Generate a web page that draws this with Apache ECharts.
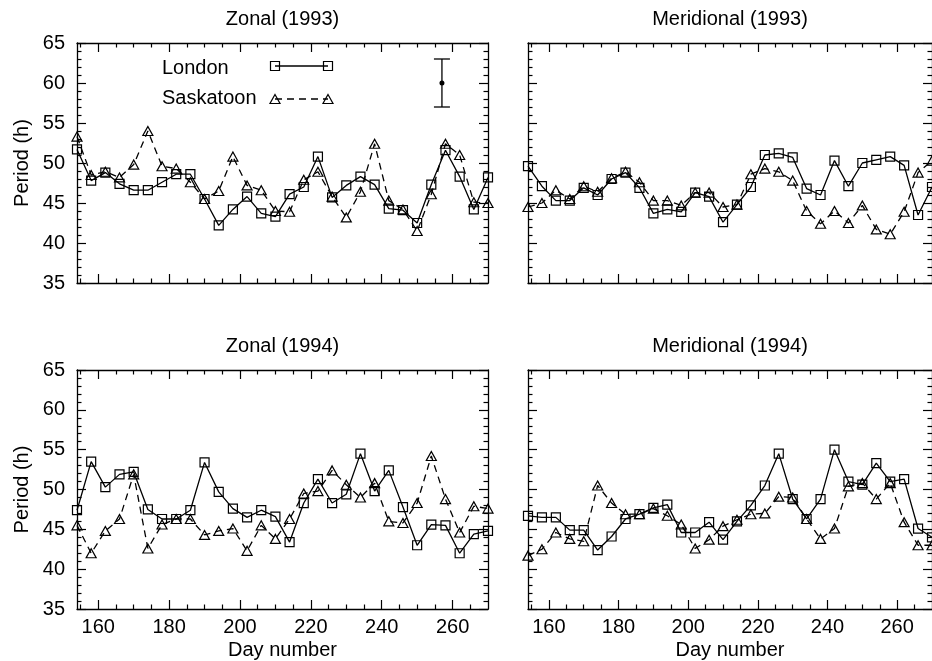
<!DOCTYPE html>
<html>
<head>
<meta charset="utf-8">
<script src="https://cdn.jsdelivr.net/npm/echarts@6/dist/echarts.min.js"></script>
<style>
  html, body { margin: 0; padding: 0; background: #fff; }
  #chart { width: 932px; height: 661px; }
</style>
</head>
<body>
<div id="chart"></div>
<script>
// Sampling days (every 4 days)
const days = [154,158,162,166,170,174,178,182,186,190,194,198,202,206,210,214,218,222,226,230,234,238,242,246,250,254,258,262,266,270];

// Period (h) per station and wind component
const zonal1993London    = [51.7,47.8,48.8,47.4,46.6,46.6,47.6,48.6,48.6,45.5,42.2,44.2,45.8,43.7,43.3,46.1,47.0,50.8,45.7,47.2,48.3,47.3,44.3,44.1,42.5,47.3,51.6,48.3,44.2,48.2];
const zonal1993Saskatoon = [53.3,48.5,48.9,48.2,49.8,54.0,49.6,49.3,47.6,45.5,46.5,50.8,47.2,46.6,44.0,43.9,47.9,48.9,45.8,43.2,46.4,52.4,45.3,44.2,41.5,46.1,52.4,51.0,45.1,45.0];
const merid1993London    = [49.6,47.1,45.3,45.3,46.9,46.0,48.0,48.8,46.9,43.7,44.2,43.9,46.3,45.8,42.6,44.8,47.0,51.0,51.2,50.7,46.8,46.0,50.3,47.1,50.0,50.4,50.8,49.7,43.5,47.0];
const merid1993Saskatoon = [44.5,45.0,46.6,45.5,47.1,46.4,48.1,48.9,47.6,45.3,45.3,44.7,46.3,46.3,44.5,44.8,48.6,49.3,48.9,47.8,44.0,42.4,44.0,42.5,44.7,41.7,41.1,43.9,48.8,50.3];
const zonal1994London    = [47.4,53.5,50.3,51.9,52.2,47.5,46.3,46.3,47.4,53.4,49.7,47.6,46.5,47.4,46.6,43.4,48.3,51.3,48.3,49.4,54.5,49.8,52.4,47.8,43.0,45.6,45.5,42.0,44.4,44.8];
const zonal1994Saskatoon = [45.5,42.0,44.8,46.3,51.9,42.6,45.6,46.3,46.3,44.3,44.8,45.1,42.3,45.5,43.8,46.3,49.5,49.8,52.4,50.6,49.0,50.8,46.0,45.8,48.3,54.2,48.8,44.6,47.9,47.6];
const merid1994London    = [46.7,46.5,46.5,44.9,44.9,42.4,44.1,46.3,46.9,47.7,48.1,44.6,44.6,45.9,43.7,46.0,48.0,50.5,54.5,48.8,46.3,48.8,55.0,51.0,50.6,53.3,51.0,51.3,45.1,44.0];
const merid1994Saskatoon = [41.7,42.5,44.6,43.8,43.5,50.5,48.3,46.9,46.9,47.6,46.7,45.6,42.6,43.7,45.4,46.2,46.9,47.0,49.1,49.0,46.3,43.8,45.1,50.4,50.8,48.8,50.8,45.9,43.0,43.0];

// Axis ticks
const xMajorTicks = [160,180,200,220,240,260];
const xMinorTicks = [155,165,170,175,185,190,195,205,210,215,225,230,235,245,250,255,265];
const dayRange = [154, 270];
const periodRange = [35, 65];

// Typical uncertainty bar: [day, period, half-width]
const errorBar = [[257, 60, 3]];

const panelTitles = ['Zonal (1993)', 'Meridional (1993)', 'Zonal (1994)', 'Meridional (1994)'];
const londonSets = [zonal1993London, merid1993London, zonal1994London, merid1994London];
const saskSets = [zonal1993Saskatoon, merid1993Saskatoon, zonal1994Saskatoon, merid1994Saskatoon];

const FONT = 'Liberation Sans, Arial, Helvetica, sans-serif';
const FS = 20;
const BLACK = '#000';

const layout = [
  { left: 77,  top: 43,  yLabels: true,  xLabels: false },
  { left: 528, top: 43,  yLabels: false, xLabels: false },
  { left: 77,  top: 370, yLabels: true,  xLabels: true  },
  { left: 528, top: 370, yLabels: false, xLabels: true  }
];
const W = 411, H = 240;
const MAJ = 9, MIN = 4.5;

const grid = [], xAxis = [], yAxis = [], series = [];

function pairs(vals) { return days.map((d, i) => [d, vals[i]]); }

layout.forEach((p, i) => {
  grid.push({ left: p.left, top: p.top, width: W, height: H, containLabel: false });
  const axisLineStyle = { show: true, onZero: false, lineStyle: { color: BLACK, width: 1.3 } };
  const baseX = { type: 'value', gridIndex: i, min: dayRange[0], max: dayRange[1], splitLine: { show: false } };
  // bottom: major ticks (+ labels on the lower row)
  xAxis.push(Object.assign({}, baseX, {
    position: 'bottom',
    axisLine: axisLineStyle,
    axisTick: { show: true, inside: true, length: MAJ, customValues: xMajorTicks, lineStyle: { color: BLACK, width: 1.2 } },
    axisLabel: { show: p.xLabels, customValues: xMajorTicks, color: BLACK, fontFamily: FONT, fontSize: FS, margin: 8 },
    name: p.xLabels ? 'Day number' : '',
    nameLocation: 'middle', nameGap: 31,
    nameTextStyle: { color: BLACK, fontFamily: FONT, fontSize: FS }
  }));
  // bottom: minor ticks
  xAxis.push(Object.assign({}, baseX, {
    position: 'bottom',
    axisLine: { show: false, onZero: false },
    axisTick: { show: true, inside: true, length: MIN, customValues: xMinorTicks, lineStyle: { color: BLACK, width: 1.2 } },
    axisLabel: { show: false }
  }));
  // top: frame line, major ticks and panel title
  xAxis.push(Object.assign({}, baseX, {
    position: 'top',
    axisLine: axisLineStyle,
    axisTick: { show: true, inside: true, length: MAJ, customValues: xMajorTicks, lineStyle: { color: BLACK, width: 1.2 } },
    axisLabel: { show: false },
    name: panelTitles[i],
    nameLocation: 'middle', nameGap: 14,
    nameTextStyle: { color: BLACK, fontFamily: FONT, fontSize: FS }
  }));
  // top: minor ticks
  xAxis.push(Object.assign({}, baseX, {
    position: 'top',
    axisLine: { show: false, onZero: false },
    axisTick: { show: true, inside: true, length: MIN, customValues: xMinorTicks, lineStyle: { color: BLACK, width: 1.2 } },
    axisLabel: { show: false }
  }));

  const baseY = {
    type: 'value', gridIndex: i, min: periodRange[0], max: periodRange[1], interval: 5,
    splitLine: { show: false },
    axisLine: axisLineStyle,
    axisTick: { show: true, inside: true, length: MAJ, lineStyle: { color: BLACK, width: 1.2 } },
    minorTick: { show: true, splitNumber: 5, length: MIN, lineStyle: { color: BLACK, width: 1.2 } },
    minorSplitLine: { show: false }
  };
  yAxis.push(Object.assign({}, baseY, {
    position: 'left',
    axisLabel: { show: p.yLabels, color: BLACK, fontFamily: FONT, fontSize: FS, margin: 12 },
    name: p.yLabels ? 'Period (h)' : '',
    nameLocation: 'middle', nameRotate: 90, nameGap: 45,
    nameTextStyle: { color: BLACK, fontFamily: FONT, fontSize: FS }
  }));
  yAxis.push(Object.assign({}, baseY, {
    position: 'right',
    axisLabel: { show: false }
  }));

  series.push({
    name: 'London', type: 'line', xAxisIndex: 4 * i, yAxisIndex: 2 * i,
    data: pairs(londonSets[i]),
    symbol: 'rect', symbolSize: 9,
    lineStyle: { color: BLACK, width: 1.3 },
    itemStyle: { color: 'rgba(0,0,0,0)', borderColor: BLACK, borderWidth: 1.2 },
    emphasis: { disabled: true },
    z: 3
  });
  series.push({
    name: 'Saskatoon', type: 'line', xAxisIndex: 4 * i, yAxisIndex: 2 * i,
    data: pairs(saskSets[i]),
    symbol: 'triangle', symbolSize: [10, 9],
    lineStyle: { color: BLACK, width: 1.3, type: [7, 5] },
    itemStyle: { color: 'rgba(0,0,0,0)', borderColor: BLACK, borderWidth: 1.2 },
    emphasis: { disabled: true },
    z: 2
  });
});

// Uncertainty bar in the first panel
series.push({
  type: 'custom', xAxisIndex: 0, yAxisIndex: 0, data: errorBar,
  encode: { x: 0, y: 1 },
  renderItem: function (params, api) {
    const x = api.value(0), y = api.value(1), e = api.value(2);
    const c = api.coord([x, y]);
    const t = api.coord([x, y + e]);
    const b = api.coord([x, y - e]);
    const half = 8;
    const st = { stroke: BLACK, lineWidth: 1.3 };
    return {
      type: 'group',
      children: [
        { type: 'line', shape: { x1: c[0], y1: t[1], x2: c[0], y2: b[1] }, style: st },
        { type: 'line', shape: { x1: c[0] - half, y1: t[1], x2: c[0] + half, y2: t[1] }, style: st },
        { type: 'line', shape: { x1: c[0] - half, y1: b[1], x2: c[0] + half, y2: b[1] }, style: st },
        { type: 'circle', shape: { cx: c[0], cy: c[1], r: 2.5 }, style: { fill: BLACK } }
      ]
    };
  }
});

// Key: label, then line sample with a marker at each end
function keyTri(cx, cy) {
  return { type: 'polygon', shape: { points: [[cx, cy - 4.5], [cx + 5, cy + 4.5], [cx - 5, cy + 4.5]] },
           style: { fill: 'none', stroke: BLACK, lineWidth: 1.2 } };
}
function keyRect(cx, cy) {
  return { type: 'rect', shape: { x: cx - 4.5, y: cy - 4.5, width: 9, height: 9 },
           style: { fill: 'none', stroke: BLACK, lineWidth: 1.2 } };
}
const keyX1 = 275, keyX2 = 328;
const graphic = [
  { type: 'text', x: 162, y: 68, style: { text: 'London', fill: BLACK, font: FS + 'px ' + FONT, verticalAlign: 'middle', align: 'left' } },
  { type: 'line', shape: { x1: keyX1, y1: 66, x2: keyX2, y2: 66 }, style: { stroke: BLACK, lineWidth: 1.3 } },
  keyRect(keyX1, 66), keyRect(keyX2, 66),
  { type: 'text', x: 162, y: 98, style: { text: 'Saskatoon', fill: BLACK, font: FS + 'px ' + FONT, verticalAlign: 'middle', align: 'left' } },
  { type: 'line', shape: { x1: keyX1, y1: 99, x2: keyX2, y2: 99 }, style: { stroke: BLACK, lineWidth: 1.3, lineDash: [7, 5] } },
  keyTri(keyX1, 99), keyTri(keyX2, 99)
];

const chart = echarts.init(document.getElementById('chart'), null, { renderer: 'canvas' });
chart.setOption({
  backgroundColor: '#fff',
  animation: false,
  textStyle: { fontFamily: FONT },
  grid, xAxis, yAxis, series, graphic
});
</script>
</body>
</html>
